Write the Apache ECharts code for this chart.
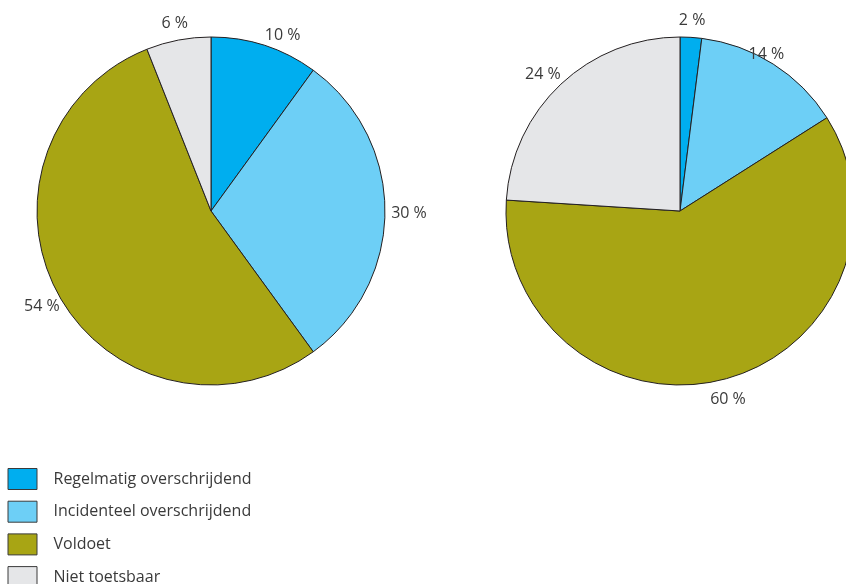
<!DOCTYPE html>
<html>
<head>
<meta charset="utf-8">
<style>
  html, body { margin: 0; padding: 0; background: #ffffff; }
  #chart { width: 846px; height: 584px; }
</style>
<script src="https://cdn.jsdelivr.net/npm/echarts@6/dist/echarts.min.js"></script>
</head>
<body>
<div id="chart"></div>
<script>
// Categories, shared by both pies and the legend
const categories = [
  'Regelmatig overschrijdend',
  'Incidenteel overschrijdend',
  'Voldoet',
  'Niet toetsbaar'
];
// Percentages per category
const leftValues = [10, 30, 54, 6];
const rightValues = [2, 14, 60, 24];
const colors = ['#00aeef', '#6dcff6', '#a8a514', '#e5e6e8'];

const FONT = '"Open Sans", Lato, sans-serif';
const TEXT = '#3a3a3a';

// Label centred on a point a fixed distance out along the slice's mid-angle,
// with an optional small nudge per slice
function radialLabel(dist, nudge) {
  return function (params) {
    const pts = params.labelLinePoints;
    if (!pts) return {};
    const dx = pts[1][0] - pts[0][0];
    const dy = pts[1][1] - pts[0][1];
    const len = Math.sqrt(dx * dx + dy * dy) || 1;
    const n = nudge[params.dataIndex] || [0, 0];
    return {
      x: pts[0][0] + dx / len * dist + n[0],
      y: pts[0][1] + dy / len * dist + 2 + n[1],
      align: 'center',
      verticalAlign: 'middle'
    };
  };
}

function pieSeries(values, center, nudge) {
  return {
    type: 'pie',
    center: center,
    radius: 174,
    startAngle: 90,
    clockwise: true,
    silent: true,
    avoidLabelOverlap: false,
    data: values.map((v, i) => ({ name: categories[i], value: v, itemStyle: { color: colors[i] } })),
    itemStyle: { borderColor: '#231f20', borderWidth: 1 },
    label: {
      show: true,
      position: 'outside',
      formatter: p => p.value + ' %',
      fontFamily: FONT,
      fontSize: 16,
      color: TEXT
    },
    labelLine: { show: true, length: 10, length2: 0, lineStyle: { opacity: 0 } },
    labelLayout: radialLabel(19, nudge),
    emphasis: { disabled: true }
  };
}

const chart = echarts.init(document.getElementById('chart'), null, { renderer: 'canvas' });
chart.setOption({
  animation: false,
  color: colors,
  legend: {
    orient: 'vertical',
    left: 2.5,
    top: 463,
    height: 160,
    itemWidth: 29,
    itemHeight: 21,
    itemGap: 10.7,
    icon: 'rect',
    selectedMode: false,
    data: categories,
    itemStyle: { borderColor: '#3a3a3a', borderWidth: 1 },
    textStyle: { fontFamily: FONT, fontSize: 16, color: TEXT, padding: [0, 0, 0, 11.5] }
  },
  series: [
    pieSeries(leftValues, [211, 211], { 0: [12, 6], 1: [5, 0] }),
    pieSeries(rightValues, [680, 211], { 1: [-17, 4], 3: [-5, 2] })
  ]
});
</script>
</body>
</html>
